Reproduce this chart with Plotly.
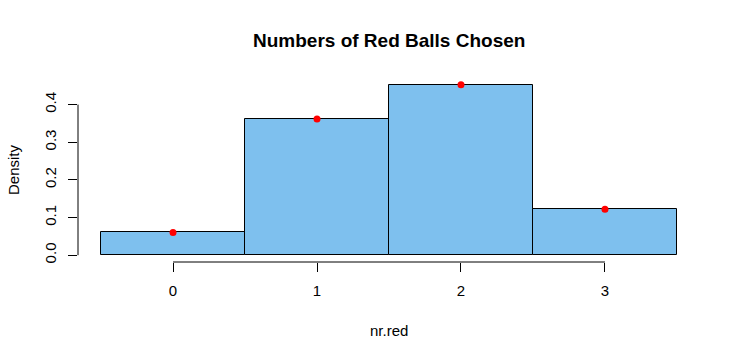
import plotly.graph_objects as go

# Data
nr_red = [0, 1, 2, 3]
density = [0.0605, 0.362, 0.4525, 0.122]
prob_points = [0.0605, 0.362, 0.4525, 0.122]
y_ticks = [0.0, 0.1, 0.2, 0.3, 0.4]
y_tick_labels = ["0.0", "0.1", "0.2", "0.3", "0.4"]
x_ticks = [0, 1, 2, 3]

FONT = "Liberation Sans, Arial, sans-serif"
LAB = 15

xmin, xmax = min(nr_red) - 0.5, max(nr_red) + 0.5
xpad = 0.04 * (xmax - xmin)
ymax = max(density)
ypad = 0.04 * ymax

fig = go.Figure()
fig.add_trace(go.Bar(
    x=nr_red, y=density, width=1,
    marker=dict(color="#7EC0EE", line=dict(color="black", width=1)),
    hoverinfo="skip", showlegend=False,
))
fig.add_trace(go.Scatter(
    x=nr_red, y=prob_points, mode="markers",
    marker=dict(color="red", size=7),
    showlegend=False,
))

# R-style axis lines spanning only the tick range
fig.add_shape(type="line", xref="x", yref="paper",
              x0=min(x_ticks), x1=max(x_ticks), y0=0, y1=0,
              line=dict(color="black", width=1))
fig.add_shape(type="line", xref="paper", yref="y",
              x0=0, x1=0, y0=min(y_ticks), y1=max(y_ticks),
              line=dict(color="black", width=1))

fig.update_layout(
    width=740, height=360,
    margin=dict(l=78, r=40, t=78, b=98),
    paper_bgcolor="white", plot_bgcolor="white",
    font=dict(family=FONT, size=LAB, color="black"),
    bargap=0,
    xaxis=dict(range=[xmin - xpad, xmax + xpad], tickvals=x_ticks,
               ticktext=[str(v) for v in x_ticks],
               ticks="outside", ticklen=9, tickcolor="black", tickwidth=1,
               ticklabelstandoff=6,
               showgrid=False, zeroline=False, showline=False,
               tickfont=dict(size=LAB)),
    yaxis=dict(range=[-ypad, ymax + ypad], tickvals=y_ticks,
               ticktext=y_tick_labels, tickangle=-90,
               ticks="outside", ticklen=9, tickcolor="black", tickwidth=1,
               ticklabelstandoff=6,
               showgrid=False, zeroline=False, showline=False,
               tickfont=dict(size=LAB)),
    annotations=[
        dict(text="<b>Numbers of Red Balls Chosen</b>", xref="paper", yref="paper",
             x=0.5, y=1, yshift=38, yanchor="middle", xanchor="center",
             showarrow=False, font=dict(size=19, family=FONT)),
        dict(text="nr.red", xref="paper", yref="paper", x=0.5, y=0,
             yshift=-68, yanchor="middle", xanchor="center",
             showarrow=False, font=dict(size=LAB, family=FONT)),
        dict(text="Density", xref="paper", yref="paper", x=0, y=0.5,
             xshift=-65, yanchor="middle", xanchor="center", textangle=-90,
             showarrow=False, font=dict(size=LAB, family=FONT)),
    ],
)

fig.write_html("out.html", config={"displayModeBar": False},
               post_script="document.body.style.margin='0';document.body.style.padding='0';")
